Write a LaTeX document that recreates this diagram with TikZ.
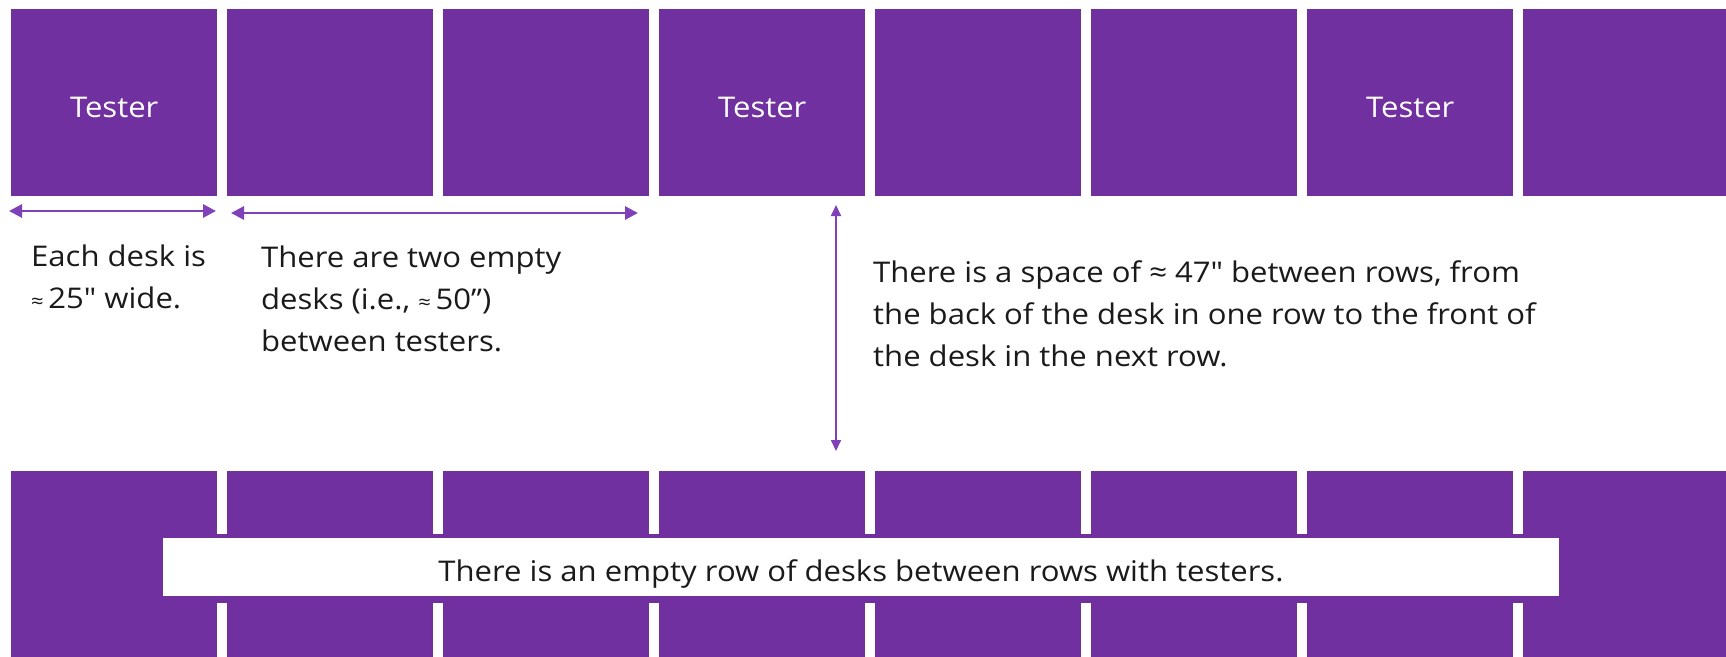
\documentclass[tikz,border=0pt]{standalone}
\usepackage{fontspec}
\setmainfont{Open Sans}[Ligatures=TeXOff, FakeStretch=1.09]
\usetikzlibrary{arrows.meta}
\definecolor{deskpurple}{HTML}{7030A0}
\definecolor{arrowpurple}{HTML}{8040B8}
\definecolor{txt}{HTML}{1A1A1A}
\begin{document}
\begin{tikzpicture}[x=1pt,y=-1pt,
  desk/.style={fill=deskpurple, draw=none, minimum width=206pt, minimum height=187pt, inner sep=0pt, anchor=north west, text=white, text height=29.2pt, text depth=0pt, font=\fontsize{28.5}{34}\selectfont},
  bdesk/.style={desk, minimum height=190pt},
  note/.style={text=txt, font=\fontsize{28.5}{42}\selectfont, align=left, anchor=north west, inner sep=0pt},
  dimarrow/.style={draw=arrowpurple, line width=2.8pt, {Triangle[length=13pt,width=13pt]}-{Triangle[length=13pt,width=13pt]}},
  vdimarrow/.style={draw=arrowpurple, line width=1.8pt, {Triangle[length=11pt,width=10pt]}-{Triangle[length=11pt,width=10pt]}},
]
\useasboundingbox (0,0) rectangle (1726,656);
% top row
\node[desk] (t1) at (11,9) {Tester};
\node[desk] (t2) at (227,9) {};
\node[desk] (t3) at (443,9) {};
\node[desk] (t4) at (659,9) {Tester};
\node[desk] (t5) at (875,9) {};
\node[desk] (t6) at (1091,9) {};
\node[desk] (t7) at (1307,9) {Tester};
\node[desk] (t8) at (1523,9) {};
% bottom row
\node[bdesk] (b1) at (11,471) {};
\node[bdesk] (b2) at (227,471) {};
\node[bdesk] (b3) at (443,471) {};
\node[bdesk] (b4) at (659,471) {};
\node[bdesk] (b5) at (875,471) {};
\node[bdesk] (b6) at (1091,471) {};
\node[bdesk] (b7) at (1307,471) {};
\node[bdesk] (b8) at (1523,471) {};
\fill[deskpurple] (11,534) rectangle (1730,603);
\node[fill=white, minimum width=1396pt, minimum height=58pt, inner sep=0pt, text height=30pt, text depth=2pt, text=txt, font=\fontsize{28.5}{34}\selectfont] (lbl) at (861,567) {There is an empty row of desks between rows with testers.};
% dimension arrows
\coordinate (w1l) at (9,211);
\coordinate (w1r) at (216,211);
\coordinate (w2l) at (231,213);
\coordinate (w2r) at (638,213);
\coordinate (vt) at (836,205);
\coordinate (vb) at (836,451);
\draw[dimarrow] (w1l) -- (w1r);
\draw[dimarrow] (w2l) -- (w2r);
\draw[vdimarrow] (vt) -- (vb);
% notes
\node[note] (n1) at (31,244.5) {Each desk is\\{\fontsize{20}{20}\selectfont ≈}\,25" wide.};
\node[note] (n2) at (261,245.5) {There are two empty\\desks (i.e., {\fontsize{20}{20}\selectfont ≈}\,50”)\\between testers.};
\node[note] (n3) at (873,260.5) {There is a space of ≈ 47" between rows, from\\the back of the desk in one row to the front of\\the desk in the next row.};
\end{tikzpicture}
\end{document}
